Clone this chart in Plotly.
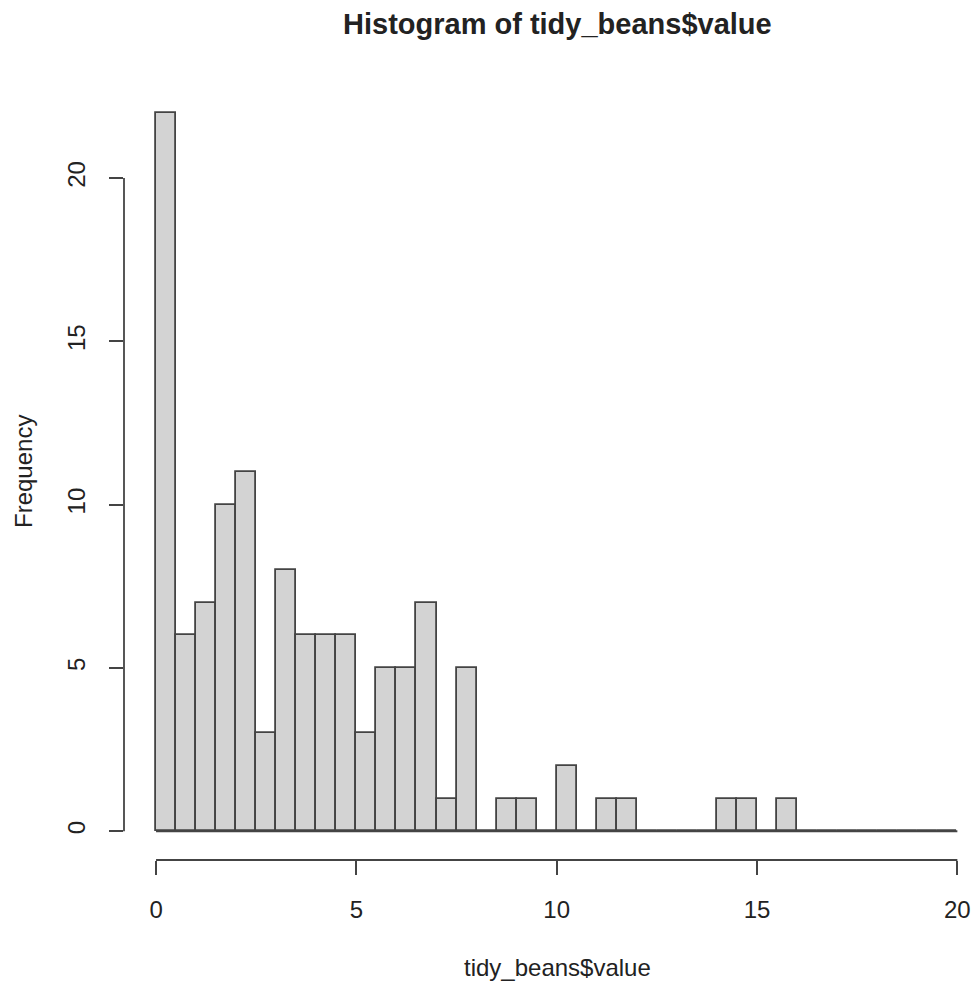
import numpy as np
import plotly.graph_objects as go

# Histogram data (bin width 0.5, from 0 to 20)
bin_start = 0.0
bin_width = 0.5
counts = [22, 6, 7, 10, 11, 3, 8, 6, 6, 6,
          3, 5, 5, 7, 1, 5, 0, 1, 1, 0,
          2, 0, 1, 1, 0, 0, 0, 0, 1, 1,
          0, 1, 0, 0, 0, 0, 0, 0, 0, 0]
x_ticks = [0, 5, 10, 15, 20]
y_ticks = [0, 5, 10, 15, 20]
title_text = "Histogram of tidy_beans$value"
x_label = "tidy_beans$value"
y_label = "Frequency"

edges = bin_start + bin_width * np.arange(len(counts) + 1)
centers = (edges[:-1] + edges[1:]) / 2

FONT = "Liberation Sans, Arial, sans-serif"
LINE = "#444444"
TEXT = "#222222"

fig = go.Figure()
fig.add_trace(go.Bar(
    x=centers, y=counts, width=bin_width,
    marker=dict(color="#D3D3D3", line=dict(color=LINE, width=1.8)),
    hoverinfo="x+y", showlegend=False,
))
# baseline of empty bins (R draws zero-height rectangles)
fig.add_trace(go.Scatter(
    x=[edges[0], edges[-1]], y=[0, 0], mode="lines",
    line=dict(color=LINE, width=1.8), hoverinfo="skip", showlegend=False,
))

fig.update_layout(
    width=975, height=983,
    margin=dict(l=124, r=0, t=84, b=123),
    paper_bgcolor="white", plot_bgcolor="white",
    font=dict(family=FONT, size=24, color=TEXT),
    bargap=0,
    xaxis=dict(range=[-0.8, 20.44], tickvals=x_ticks, ticks="outside",
               ticklen=14, tickwidth=1.8, tickcolor=LINE, showgrid=False,
               zeroline=False, showline=False, ticklabelstandoff=14,
               tickfont=dict(size=24, color=TEXT)),
    yaxis=dict(range=[-0.88, 22.88], tickvals=y_ticks, ticks="outside",
               ticklen=14, tickwidth=1.8, tickcolor=LINE, showgrid=False,
               zeroline=False, showline=False, tickangle=-90,
               ticklabelstandoff=14, tickfont=dict(size=24, color=TEXT)),
    shapes=[
        dict(type="line", xref="x", yref="y domain", x0=x_ticks[0], x1=x_ticks[-1],
             y0=0, y1=0, line=dict(color=LINE, width=1.8)),
        dict(type="line", xref="x domain", yref="y", x0=0, x1=0,
             y0=y_ticks[0], y1=y_ticks[-1], line=dict(color=LINE, width=1.8)),
    ],
    annotations=[
        dict(text="<b>" + title_text + "</b>", xref="paper", yref="paper",
             x=0.509, y=1, yshift=60, showarrow=False, xanchor="center",
             yanchor="middle", font=dict(size=29, color=TEXT, family=FONT)),
        dict(text=x_label, xref="paper", yref="paper", x=0.509, y=0,
             yshift=-107, showarrow=False, xanchor="center", yanchor="middle",
             font=dict(size=24, color=TEXT, family=FONT)),
        dict(text=y_label, xref="paper", yref="paper", x=0, y=0.5,
             xshift=-101, showarrow=False, textangle=-90, xanchor="center",
             yanchor="middle", font=dict(size=24, color=TEXT, family=FONT)),
    ],
)

fig.write_html("out.html")
